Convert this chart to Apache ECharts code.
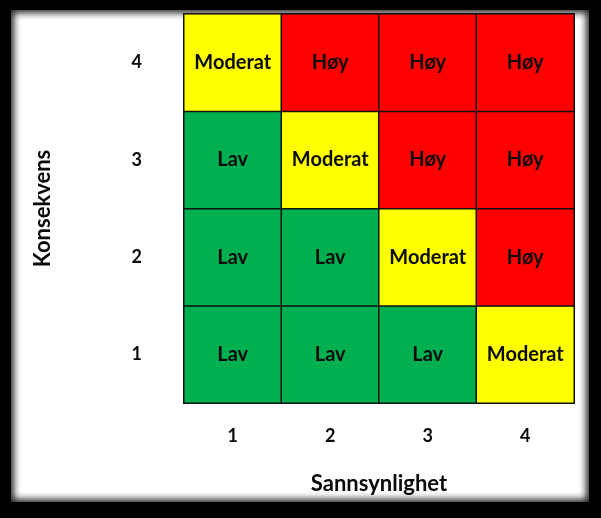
<!DOCTYPE html>
<html>
<head>
<meta charset="utf-8">
<script src="https://cdn.jsdelivr.net/npm/echarts@6/dist/echarts.min.js"></script>
<style>
  html, body { margin: 0; padding: 0; background: #000; }
  #wrap { position: relative; width: 601px; height: 518px; background: #000; overflow: hidden; }
  #paper {
    position: absolute; left: 11px; top: 10px; width: 578px; height: 492px;
    background: #fff;
    box-shadow: inset 0 0 7px 3px rgba(0,0,0,0.85);
  }
  #chart { position: absolute; left: 0; top: 0; width: 601px; height: 518px; }
</style>
</head>
<body>
<div id="wrap">
  <div id="paper"></div>
  <div id="chart"></div>
</div>
<script>
// akser
const sannsynlighet = ["1", "2", "3", "4"];
const konsekvens = ["1", "2", "3", "4"];
const nivaaNavn = ["Lav", "Moderat", "Høy"];
const nivaaFarger = ["#00b050", "#ffff00", "#ff0000"];

// risikonivå per rad (konsekvens 1..4), kolonne = sannsynlighet 1..4
const rad1 = [0, 0, 0, 1];
const rad2 = [0, 0, 1, 2];
const rad3 = [0, 1, 2, 2];
const rad4 = [1, 2, 2, 2];

const rader = [rad1, rad2, rad3, rad4];
const data = [];
rader.forEach((rad, y) => {
  rad.forEach((v, x) => data.push([x, y, v]));
});

const font = "Lato, 'Open Sans', sans-serif";
let chart = echarts.init(document.getElementById("chart"));

let option = {
  animation: false,
  grid: { left: 184, top: 14, width: 390, height: 389 },
  xAxis: {
    type: "category",
    data: sannsynlighet,
    name: "Sannsynlighet",
    nameLocation: "middle",
    nameGap: 70,
    nameTextStyle: { fontFamily: font, fontWeight: "bold", fontSize: 22, color: "#0a0a0a" },
    axisLine: { show: false },
    axisTick: { show: false },
    splitLine: { show: false },
    axisLabel: { margin: 24, fontFamily: font, fontWeight: "bold", fontSize: 18, color: "#0a0a0a" },
  },
  yAxis: {
    type: "category",
    data: konsekvens,
    name: "Konsekvens",
    nameLocation: "middle",
    nameGap: 130,
    nameRotate: 90,
    nameTextStyle: { fontFamily: font, fontWeight: "bold", fontSize: 22, color: "#0a0a0a" },
    axisLine: { show: false },
    axisTick: { show: false },
    splitLine: { show: false },
    axisLabel: { margin: 42, fontFamily: font, fontWeight: "bold", fontSize: 18, color: "#0a0a0a" },
  },
  visualMap: {
    show: false,
    type: "piecewise",
    dimension: 2,
    pieces: [
      { value: 0, color: nivaaFarger[0] },
      { value: 1, color: nivaaFarger[1] },
      { value: 2, color: nivaaFarger[2] },
    ],
  },
  series: [
    {
      type: "heatmap",
      data: data,
      itemStyle: { borderColor: "#111", borderWidth: 1.5 },
      label: {
        show: true,
        formatter: (p) => nivaaNavn[p.value[2]],
        fontFamily: font,
        fontWeight: "bold",
        fontSize: 20,
        color: "#0a0a0a",
      },
    },
  ],
};

chart.setOption(option);
</script>
</body>
</html>
